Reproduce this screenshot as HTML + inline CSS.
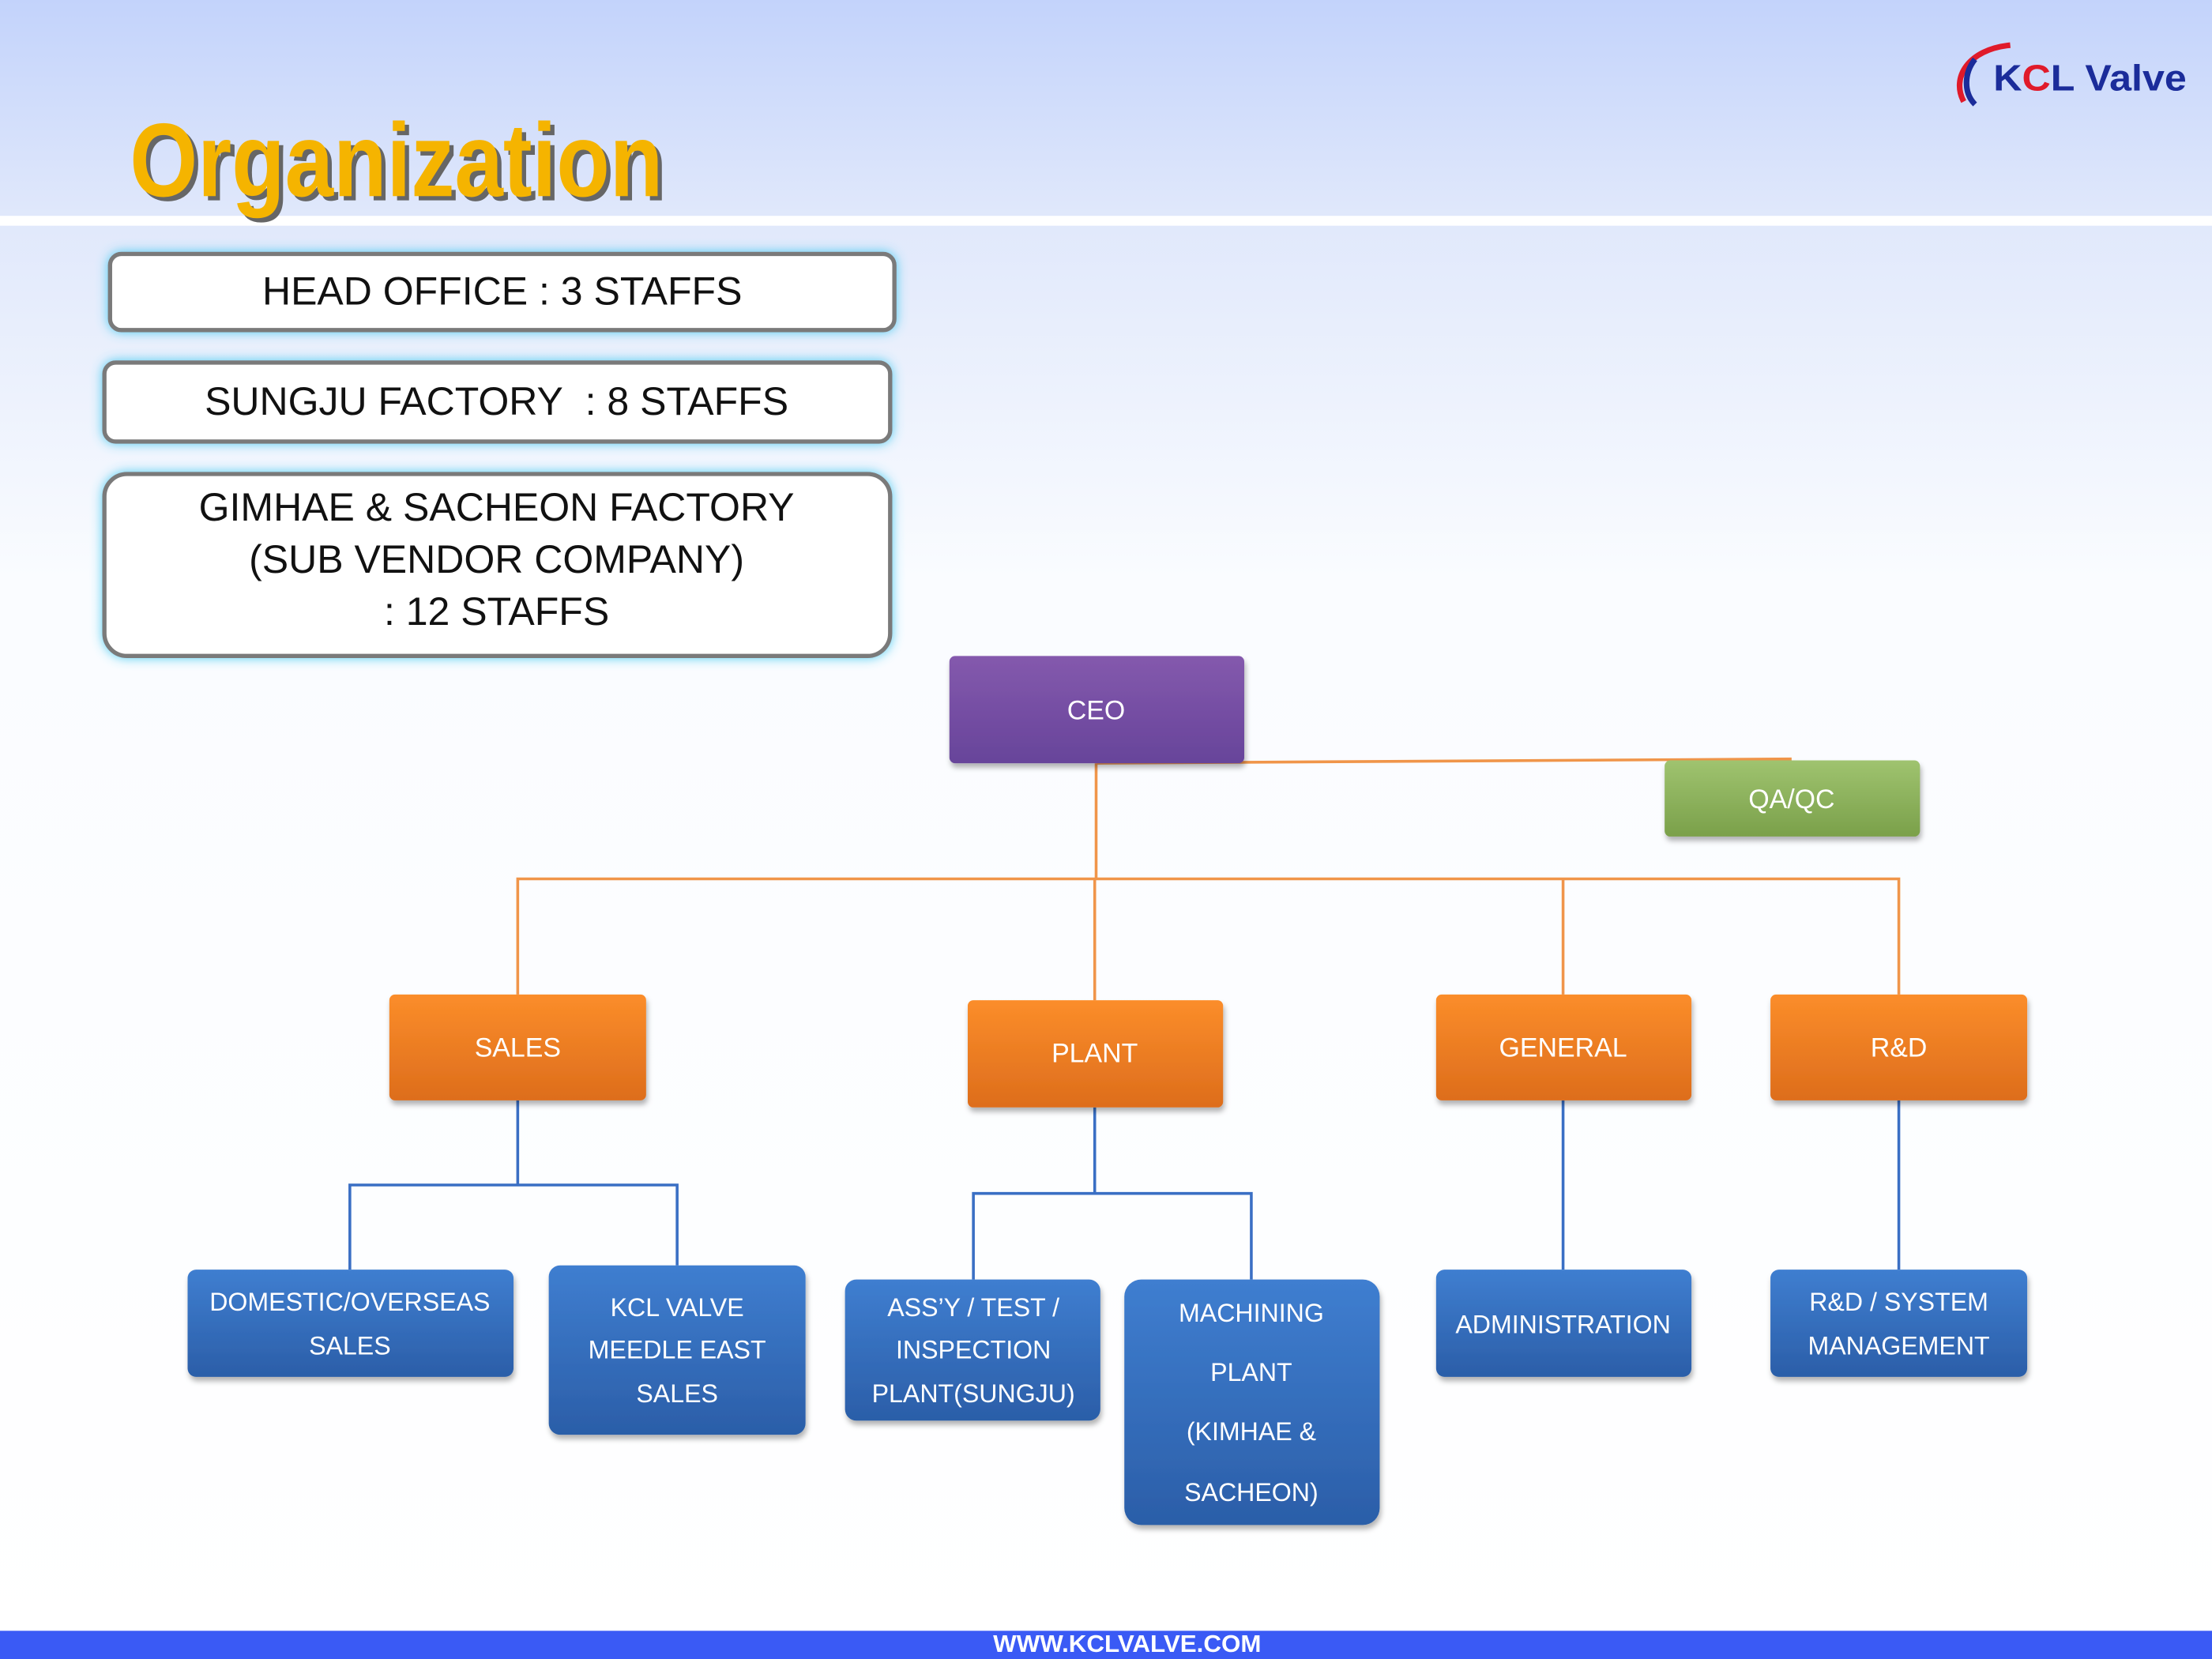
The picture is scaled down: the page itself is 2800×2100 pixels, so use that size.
<!DOCTYPE html>
<html><head><meta charset="utf-8"><style>
html,body{margin:0;padding:0;width:2800px;height:2100px;overflow:hidden;background:#fff}
svg{display:block}
text{font-family:"Liberation Sans",sans-serif}
</style></head><body>
<svg width="2800" height="2100" viewBox="0 0 1568 1176" xmlns="http://www.w3.org/2000/svg">
<defs>
<linearGradient id="bg" x1="0" y1="0" x2="0" y2="1">
<stop offset="0" stop-color="#c3d3fb"/><stop offset="0.13" stop-color="#e0e8fb"/><stop offset="0.35" stop-color="#fafcff"/><stop offset="1" stop-color="#ffffff"/></linearGradient>
<linearGradient id="pu" x1="0" y1="0" x2="0" y2="1"><stop offset="0" stop-color="#8459ad"/><stop offset="1" stop-color="#67449a"/></linearGradient>
<linearGradient id="gr" x1="0" y1="0" x2="0" y2="1"><stop offset="0" stop-color="#9fc36f"/><stop offset="1" stop-color="#7aa04a"/></linearGradient>
<linearGradient id="or" x1="0" y1="0" x2="0" y2="1"><stop offset="0" stop-color="#fb8d2a"/><stop offset="1" stop-color="#dd6d1c"/></linearGradient>
<linearGradient id="bl" x1="0" y1="0" x2="0" y2="1"><stop offset="0" stop-color="#3f7ed0"/><stop offset="1" stop-color="#2b5ea8"/></linearGradient>
<filter id="sh" x="-10%" y="-10%" width="130%" height="140%"><feDropShadow dx="1" dy="3" stdDeviation="2" flood-color="#000" flood-opacity="0.3"/></filter>
<filter id="glow" x="-10%" y="-30%" width="120%" height="160%"><feDropShadow dx="0" dy="0" stdDeviation="4" flood-color="#3cc8f0" flood-opacity="0.9"/></filter>
</defs>
<rect width="1568" height="1176" fill="url(#bg)"/>
<rect x="0" y="153" width="1568" height="7" fill="#ffffff"/>
<rect x="0" y="1156" width="1568" height="20" fill="#3a5af5"/>
<text x="799" y="1171" font-size="17" font-weight="bold" fill="#fff" text-anchor="middle" textLength="190" lengthAdjust="spacingAndGlyphs">WWW.KCLVALVE.COM</text>
<text x="95" y="142" font-size="74" font-weight="bold" fill="#666" textLength="378" lengthAdjust="spacingAndGlyphs">Organization</text>
<text x="92" y="139" font-size="74" font-weight="bold" fill="#f5b400" textLength="378" lengthAdjust="spacingAndGlyphs">Organization</text>
<path d="M1392 72 C1383 55 1395 35 1425 32" fill="none" stroke="#e01a2a" stroke-width="4"/>
<path d="M1400 42 C1392 52 1392 66 1400 74" fill="none" stroke="#1b2c9a" stroke-width="4"/>
<text x="1413" y="64" font-size="26" font-weight="bold" fill="#1b2c9a" textLength="137" lengthAdjust="spacingAndGlyphs">K<tspan fill="#e01a2a">C</tspan>L Valve</text>
<g filter="url(#glow)">
<rect x="78" y="180" width="556" height="54" rx="8" fill="#fff" stroke="#7a7a7a" stroke-width="3"/>
<rect x="74" y="257" width="557" height="56" rx="8" fill="#fff" stroke="#7a7a7a" stroke-width="3"/>
<rect x="74" y="336" width="557" height="129" rx="16" fill="#fff" stroke="#7a7a7a" stroke-width="3"/>
</g>
<g font-size="28" fill="#111" text-anchor="middle">
<text x="356" y="216">HEAD OFFICE : 3 STAFFS</text>
<text x="352" y="294">SUNGJU FACTORY&#160;&#160;: 8 STAFFS</text>
<text x="352" y="369">GIMHAE &amp; SACHEON FACTORY</text>
<text x="352" y="406">(SUB VENDOR COMPANY)</text>
<text x="352" y="443">: 12 STAFFS</text>
</g>
<g stroke="#f0954a" stroke-width="2" fill="none">
<path d="M777 541 V623"/><path d="M777 541 L1270 538"/>
<path d="M367 705 V623 H1346 V705"/><path d="M776 623 V709"/><path d="M1108 623 V705"/>
</g>
<g stroke="#3a6fc4" stroke-width="2" fill="none">
<path d="M367 780 V840"/><path d="M248 900 V840 H480 V897"/>
<path d="M776 785 V846"/><path d="M690 907 V846 H887 V907"/>
<path d="M1108 780 V900"/><path d="M1346 780 V900"/>
</g>
<g filter="url(#sh)">
<rect x="673" y="465" width="209" height="76" rx="4" fill="url(#pu)"/>
<rect x="1180" y="539" width="181" height="54" rx="4" fill="url(#gr)"/>
<rect x="276" y="705" width="182" height="75" rx="4" fill="url(#or)"/>
<rect x="686" y="709" width="181" height="76" rx="4" fill="url(#or)"/>
<rect x="1018" y="705" width="181" height="75" rx="4" fill="url(#or)"/>
<rect x="1255" y="705" width="182" height="75" rx="4" fill="url(#or)"/>
<rect x="133" y="900" width="231" height="76" rx="6" fill="url(#bl)"/>
<rect x="389" y="897" width="182" height="120" rx="8" fill="url(#bl)"/>
<rect x="599" y="907" width="181" height="100" rx="8" fill="url(#bl)"/>
<rect x="797" y="907" width="181" height="174" rx="12" fill="url(#bl)"/>
<rect x="1018" y="900" width="181" height="76" rx="6" fill="url(#bl)"/>
<rect x="1255" y="900" width="182" height="76" rx="6" fill="url(#bl)"/>
</g>
<g font-size="19" fill="#fff" text-anchor="middle">
<text x="777" y="510">CEO</text>
<text x="1270" y="573">QA/QC</text>
<text x="367" y="749">SALES</text>
<text x="776" y="753">PLANT</text>
<text x="1108" y="749">GENERAL</text>
<text x="1346" y="749">R&amp;D</text>
</g>
<g font-size="18" fill="#fff" text-anchor="middle">
<text x="248" y="929">DOMESTIC/OVERSEAS</text><text x="248" y="960">SALES</text>
<text x="480" y="933">KCL VALVE</text><text x="480" y="963">MEEDLE EAST</text><text x="480" y="994">SALES</text>
<text x="690" y="933">ASS’Y / TEST /</text><text x="690" y="963">INSPECTION</text><text x="690" y="994">PLANT(SUNGJU)</text>
<text x="887" y="937">MACHINING</text><text x="887" y="979">PLANT</text><text x="887" y="1021">(KIMHAE &amp;</text><text x="887" y="1064">SACHEON)</text>
<text x="1108" y="945">ADMINISTRATION</text>
<text x="1346" y="929">R&amp;D / SYSTEM</text><text x="1346" y="960">MANAGEMENT</text>
</g>
</svg>
</body></html>
